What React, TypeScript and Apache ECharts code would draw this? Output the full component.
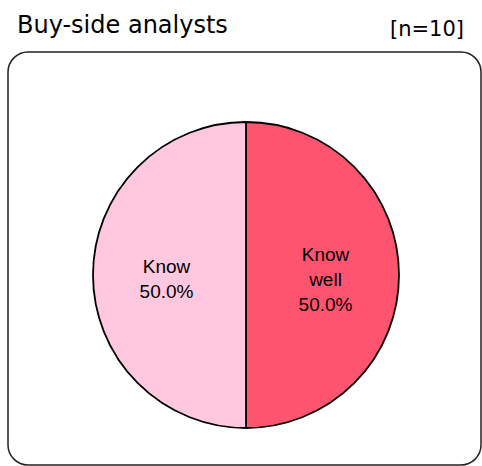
import React, { useEffect, useRef } from "react";
import * as echarts from "echarts";

const categories = ["Know well", "Know"];
const values = [50.0, 50.0];
const labels = ["Know\nwell\n50.0%", "Know\n50.0%"];
const colors = ["#ff5470", "#ffc8de"];
const title = "Buy-side analysts";
const sampleSize = "[n=10]";

export default function App() {
  const ref = useRef<HTMLDivElement>(null);
  useEffect(() => {
    document.body.style.margin = "0";
    const chart = echarts.init(ref.current!, null, { renderer: "svg" });
    chart.setOption({
      animation: false,
      graphic: [
        {
          type: "rect",
          shape: { x: 8, y: 52, width: 473, height: 413, r: 20 },
          style: { fill: "none", stroke: "#222", lineWidth: 1.5 },
          z: -1,
        },
        {
          type: "text",
          x: 17,
          y: 13,
          style: {
            text: title,
            font: "24px 'DejaVu Sans'",
            fill: "#000",
            verticalAlign: "top",
          },
        },
        {
          type: "text",
          x: 464,
          y: 18,
          style: {
            text: sampleSize,
            font: "21px 'DejaVu Sans'",
            fill: "#000",
            align: "right",
            verticalAlign: "top",
          },
        },
      ],
      series: [
        {
          type: "pie",
          center: [246, 275],
          radius: [0, 153],
          startAngle: 90,
          clockwise: true,
          silent: true,
          label: {
            show: true,
            position: "inside",
            formatter: (p: any) => labels[p.dataIndex],
            color: "#000",
            fontSize: 19,
            lineHeight: 25,
            offset: [0, 4],
            fontFamily: "'Liberation Sans', Arial, sans-serif",
          },
          labelLine: { show: false },
          itemStyle: { borderColor: "#000", borderWidth: 1.8 },
          data: categories.map((c, i) => ({
            name: c,
            value: values[i],
            itemStyle: { color: colors[i] },
          })),
        },
      ],
    });
    return () => chart.dispose();
  }, []);
  return <div ref={ref} style={{ width: 482, height: 466 }} />;
}
